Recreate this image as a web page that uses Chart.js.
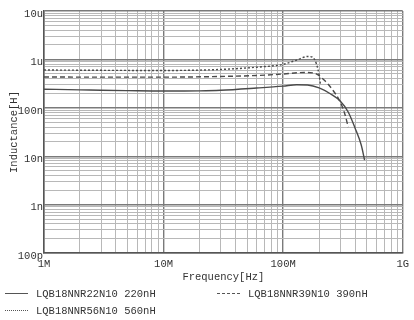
<!DOCTYPE html>
<html><head><meta charset="utf-8">
<script src="https://cdn.jsdelivr.net/npm/chart.js@4"></script>
<style>
html,body{margin:0;padding:0;background:#fff;}
#wrap{position:relative;width:414px;height:320px;overflow:hidden;}
canvas{position:absolute;left:0;top:0;}
.lg{position:absolute;font-family:"Liberation Mono",monospace;font-size:10.5px;color:#333;white-space:nowrap;line-height:12px;}
.sw{position:absolute;width:23px;height:0;}
</style></head><body>
<div id="wrap"><canvas id="c" width="414" height="320"></canvas><div id="legend"></div></div>
<script>
// Frequencies in Hz, inductance in nH
const freq220 = [1e6, 2e6, 3e6, 5e6, 1e7, 2e7, 3e7, 6e7, 1e8, 1.3e8, 1.6e8, 2e8, 2.5e8, 3e8, 3.5e8, 4e8, 4.5e8, 4.8e8];
const ind220  = [242, 235, 230, 226, 222, 224, 230, 256, 281, 300, 296, 258, 193, 138, 82, 38, 17, 8.3];

const freq390 = [1e6, 3e6, 1e7, 3e7, 6e7, 1e8, 1.5e8, 1.8e8, 2.2e8, 2.6e8, 3e8, 3.3e8, 3.5e8];
const ind390  = [433, 430, 430, 444, 465, 499, 536, 524, 375, 233, 132, 71, 40];

const freq560 = [1e6, 3e6, 1e7, 3e7, 6e7, 1e8, 1.3e8, 1.6e8, 1.75e8, 1.9e8, 2e8, 2.05e8];
const ind560  = [604, 595, 590, 620, 690, 790, 970, 1148, 1120, 804, 476, 310];

const seriesNames = ["LQB18NNR22N10 220nH", "LQB18NNR39N10 390nH", "LQB18NNR56N10 560nH"];

const xTickExp = [6, 7, 8, 9];
const xTickLabels = ["1M", "10M", "100M", "1G"];
const yTickExp = [-10, -9, -8, -7, -6, -5];
const yTickLabels = ["100p", "1n", "10n", "100n", "1u", "10u"];

const xTitle = "Frequency[Hz]";
const yTitle = "Inductance[H]";

function pts(f, l) { return f.map((v, i) => ({x: v, y: l[i] * 1e-9})); }
function isMajor(v) { const e = Math.log10(v); return Math.abs(e - Math.round(e)) < 1e-6; }
function logTicks(minE, maxE) {
  const t = [];
  for (let e = minE; e < maxE; e++) for (let s = 1; s <= 9; s++) t.push({value: s * Math.pow(10, e)});
  t.push({value: Math.pow(10, maxE)});
  return t;
}
function labelFor(v, exps, labels) {
  if (!isMajor(v)) return '';
  const i = exps.indexOf(Math.round(Math.log10(v)));
  return i >= 0 ? labels[i] : '';
}
const lineColor = '#4a4a4a';
const font = {family: '"Liberation Mono", monospace', size: 10.5};
const gridColor = c => (c.tick && isMajor(c.tick.value)) ? '#7a7a7a' : '#b8b8b8';
const gridWidth = c => (c.tick && isMajor(c.tick.value)) ? 1.4 : 1;

new Chart(document.getElementById('c'), {
  type: 'scatter',
  data: {datasets: [
    {label: seriesNames[0], data: pts(freq220, ind220), borderColor: lineColor, borderWidth: 1.4, showLine: true, pointRadius: 0, cubicInterpolationMode: 'monotone'},
    {label: seriesNames[1], data: pts(freq390, ind390), borderColor: lineColor, borderWidth: 1.4, borderDash: [5, 3], showLine: true, pointRadius: 0, cubicInterpolationMode: 'monotone'},
    {label: seriesNames[2], data: pts(freq560, ind560), borderColor: lineColor, borderWidth: 1.4, borderDash: [2, 2], showLine: true, pointRadius: 0, cubicInterpolationMode: 'monotone'}
  ]},
  options: {
    responsive: false, animation: false,
    layout: {padding: {top: 11, right: 7, left: 0, bottom: 0}},
    plugins: {legend: {display: false}, tooltip: {enabled: false}},
    scales: {
      x: {
        type: 'logarithmic', min: 1e6, max: 1e9,
        afterBuildTicks: s => { s.ticks = logTicks(6, 9); },
        afterFit: s => { s.height = 67; },
        ticks: {autoSkip: false, maxRotation: 0, padding: 5, color: '#333', font: font,
          callback: v => labelFor(v, xTickExp, xTickLabels)},
        grid: {color: gridColor, lineWidth: gridWidth, drawTicks: false},
        border: {color: '#555', width: 1.5},
        title: {display: true, text: xTitle, color: '#333', font: font, padding: {top: 0, bottom: 36}}
      },
      y: {
        type: 'logarithmic', min: 1e-10, max: 1e-5,
        afterBuildTicks: s => { s.ticks = logTicks(-10, -5); },
        afterFit: s => { s.width = 44; },
        ticks: {autoSkip: false, padding: 1, color: '#333', font: font, labelOffset: 3,
          callback: v => labelFor(v, yTickExp, yTickLabels)},
        grid: {color: gridColor, lineWidth: gridWidth, drawTicks: false},
        border: {color: '#555', width: 1.5},
        title: {display: true, text: yTitle, color: '#333', font: font, padding: {top: 8, bottom: 0}}
      }
    }
  }
});

// Legend
const legendItems = [
  {name: seriesNames[0], style: 'solid', sx: 5, tx: 36, y: 294},
  {name: seriesNames[1], style: 'dashed', sx: 217, tx: 248, y: 294},
  {name: seriesNames[2], style: 'dotted', sx: 5, tx: 36, y: 311}
];
const lg = document.getElementById('legend');
legendItems.forEach(it => {
  const sw = document.createElement('div');
  sw.className = 'sw';
  sw.style.left = it.sx + 'px';
  sw.style.top = (it.y - 1) + 'px';
  sw.style.borderTop = '1.2px ' + it.style + ' #555';
  lg.appendChild(sw);
  const t = document.createElement('div');
  t.className = 'lg';
  t.style.left = it.tx + 'px';
  t.style.top = (it.y - 6) + 'px';
  t.textContent = it.name;
  lg.appendChild(t);
});
</script>
</body></html>
